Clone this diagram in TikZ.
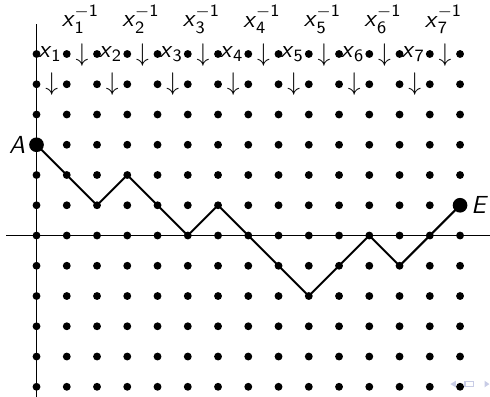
\documentclass[tikz,border=0pt]{standalone}
\usepackage{amsmath,amssymb}
\usepackage{tikz}
\usetikzlibrary{positioning, calc}
\definecolor{navblue}{RGB}{200,204,230}

\newcommand{\gen}[1]{\textit{x}$_{\text{#1}}$}
\newcommand{\geninv}[1]{\textit{x}$_{\text{#1}}^{-\text{1}}$}

\begin{document}
\begin{tikzpicture}[scale=0.5, font=\fontsize{11.6}{13}\selectfont\sffamily,
  gridpt/.style={circle, fill=black, inner sep=0pt, minimum size=3.7pt},
  endpt/.style={circle, fill=black, inner sep=0pt, minimum size=6.9pt}]
  \useasboundingbox (-1.207,-5.306) rectangle (14.99,7.785);
  % axes
  \draw[line width=0.7pt] (-1,0) -- (15,0);
  \draw[line width=0.7pt] (0,-5.6) -- (0,7);
  % lattice points
  \foreach \i in {0,...,14}
    \foreach \j in {-5,...,6}
      \node[gridpt] (d-\i-\j) at (\i,\j) {};
  % generators and their inverses
  \foreach \k in {1,...,7} {
    \node[inner sep=0pt] (gen-\k) at (2*\k-1.55,6) {\gen{\k}};
    \node[inner sep=0pt] (dgen-\k) at (2*\k-1.5,5) {$\downarrow$};
    \node[inner sep=0pt] (dinv-\k) at (2*\k-0.5,5.95) {$\downarrow$};
    \node[inner sep=0pt] (inv-\k) at (2*\k-0.55,7.15) {\geninv{\k}};
  }
  % the path from A to E
  \node[endpt, label={[inner sep=1.5pt]left:\textit{A}}] (A) at (0,3) {};
  \node[endpt, label={[inner sep=1.5pt]right:\textit{E}}] (E) at (14,1) {};
  \draw[line width=0.95pt] (A.center) -- (d-1-2.center) -- (d-2-1.center)
    -- (d-3-2.center) -- (d-4-1.center) -- (d-5-0.center) -- (d-6-1.center)
    -- (d-7-0.center) -- (d-8--1.center) -- (d-9--2.center) -- (d-10--1.center)
    -- (d-11-0.center) -- (d-12--1.center) -- (d-13-0.center) -- (E.center);
  % navigation symbols
  \fill[navblue] (13.68,-4.91) -- ++(0.18,0.11) -- ++(0,-0.22) -- cycle;
  \draw[navblue, line width=0.6pt] (14.16,-4.98) rectangle (14.44,-4.82);
  \fill[navblue] (14.97,-4.91) -- ++(-0.16,0.11) -- ++(0,-0.22) -- cycle;
\end{tikzpicture}
\end{document}
